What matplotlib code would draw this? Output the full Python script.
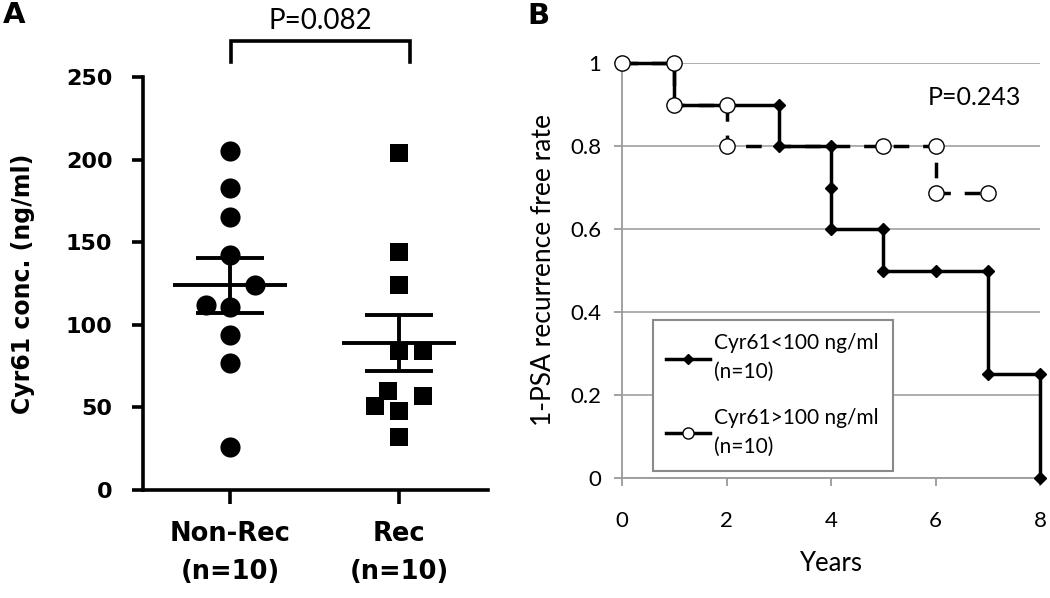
import matplotlib.pyplot as plt
import numpy as np

# Panel A: Cyr61 concentration per group
groups = ["Non-Rec\n(n=10)", "Rec\n(n=10)"]
nonrec_vals = [205, 183, 165, 142, 124, 112, 111, 94, 77, 26]
nonrec_jitter = [0, 0, 0, 0, 0.15, -0.14, 0, 0, 0, 0]
rec_vals = [204, 144, 124, 84, 84, 60, 57, 51, 48, 32]
rec_jitter = [0, 0, 0, 0, 0.14, -0.065, 0.14, -0.14, 0, 0]
p_a = "P=0.082"

# Panel B: recurrence free rate
low_years = [0, 1, 1, 2, 3, 3, 4, 4, 4, 5, 5, 6, 7, 7, 8, 8]
low_rate = [1, 1, 0.9, 0.9, 0.9, 0.8, 0.8, 0.7, 0.6, 0.6, 0.5, 0.5, 0.5, 0.25, 0.25, 0]
high_years = [0, 1, 1, 2, 2, 5, 6, 6, 7]
high_rate = [1, 1, 0.9, 0.9, 0.8, 0.8, 0.8, 0.686, 0.686]
low_label = "Cyr61<100 ng/ml\n(n=10)"
high_label = "Cyr61>100 ng/ml\n(n=10)"
p_b = "P=0.243"

W, H = 1050, 598
fig = plt.figure(figsize=(W / 100, H / 100), dpi=100)

# ---------------- panel A ----------------
axA = fig.add_axes([143 / W, (H - 490) / H, 345 / W, 413 / H])
for sp in ("top", "right"):
    axA.spines[sp].set_visible(False)
for sp in ("left", "bottom"):
    axA.spines[sp].set_linewidth(2.6)

for gi, (vals, jit, mk, ms) in enumerate(
    [(nonrec_vals, nonrec_jitter, "o", 14.5), (rec_vals, rec_jitter, "s", 13.5)]
):
    xs = gi + np.array(jit)
    axA.plot(xs, vals, ls="none", marker=mk, ms=ms, color="black", mew=0)
    m = np.mean(vals)
    sem = np.std(vals, ddof=1) / np.sqrt(len(vals))
    axA.hlines(m, gi - 0.34, gi + 0.34, color="black", lw=2.8)
    axA.hlines([m - sem, m + sem], gi - 0.2, gi + 0.2, color="black", lw=2.8)
    axA.vlines(gi, m - sem, m + sem, color="black", lw=2.8)

axA.set_xlim(-0.515, 1.527)
axA.set_ylim(0, 250)
axA.set_yticks(np.arange(0, 251, 50))
axA.set_xticks([0, 1])
axA.set_xticklabels(groups, fontsize=18.5, fontweight="bold", linespacing=1.6)
axA.tick_params(axis="y", length=8, width=2.6, pad=14, labelsize=16)
axA.tick_params(axis="x", length=10, width=2.6, pad=12)
for lab in axA.get_yticklabels():
    lab.set_fontweight("bold")
axA.set_ylabel("Cyr61 conc. (ng/ml)", fontsize=17, fontweight="bold", labelpad=22)

# bracket and p-value
axA.plot([0.006, 0.006, 1.065, 1.065], [259, 271.8, 271.8, 259],
         color="black", lw=2.6, clip_on=False, solid_joinstyle="miter")
axA.text(0.535, 284, p_a, ha="center", va="center", fontsize=20, family="Lato")

fig.text(14 / W, 1 - 15 / H, "A", ha="center", va="center", fontsize=21, fontweight="bold")

# ---------------- panel B ----------------
axB = fig.add_axes([622 / W, (H - 478) / H, 418 / W, 415 / H])
gray = "#9a9a9a"
for sp in ("top", "right"):
    axB.spines[sp].set_visible(False)
for sp in ("left", "bottom"):
    axB.spines[sp].set_color(gray)
    axB.spines[sp].set_linewidth(1.3)
axB.set_xlim(0, 8)
axB.set_ylim(0, 1)
axB.set_yticks([0, 0.2, 0.4, 0.6, 0.8, 1])
axB.set_yticklabels(["0", "0.2", "0.4", "0.6", "0.8", "1"])
axB.set_xticks([0, 2, 4, 6, 8])
axB.yaxis.grid(True, color="#a8a8a8", lw=1.3)
axB.set_axisbelow(True)
axB.tick_params(axis="both", color=gray, width=1.3, length=6, labelsize=16)
axB.tick_params(axis="y", pad=9)
axB.tick_params(axis="x", pad=18)
for lab in axB.get_xticklabels() + axB.get_yticklabels():
    lab.set_family("Lato")

axB.plot(low_years, low_rate, color="black", lw=2.5, marker="D", ms=6,
         clip_on=False, label=low_label, zorder=3)
axB.plot(high_years, high_rate, color="black", lw=2.5, ls=(0, (4.5, 4)),
         marker="o", ms=11, mfc="white", mec="black", mew=1.0,
         clip_on=False, label=high_label, zorder=4)

axB.set_xlabel("Years", fontsize=18.5, family="Lato", labelpad=14)
axB.set_ylabel("1-PSA recurrence free rate", fontsize=19, family="Lato", labelpad=10)
axB.text(6.75, 0.918, p_b, ha="center", va="center", fontsize=18, family="Lato")

leg = axB.legend(loc="upper left", bbox_to_anchor=(0.074, 0.381), borderaxespad=0,
                 fancybox=False, edgecolor="#8a8a8a", framealpha=1,
                 prop={"family": "Lato", "size": 15}, handlelength=2.1,
                 handletextpad=0.2, labelspacing=1.25, borderpad=0.65)
leg.get_frame().set_linewidth(1.5)
for t in leg.get_texts():
    t.set_linespacing(1.55)
leg.legend_handles[0].set_markersize(5)
leg.legend_handles[1].set_markersize(8)
leg.legend_handles[1].set_linestyle("-")

fig.text(538 / W, 1 - 16 / H, "B", ha="center", va="center", fontsize=21, fontweight="bold")

fig.savefig("out.png", dpi=100)
